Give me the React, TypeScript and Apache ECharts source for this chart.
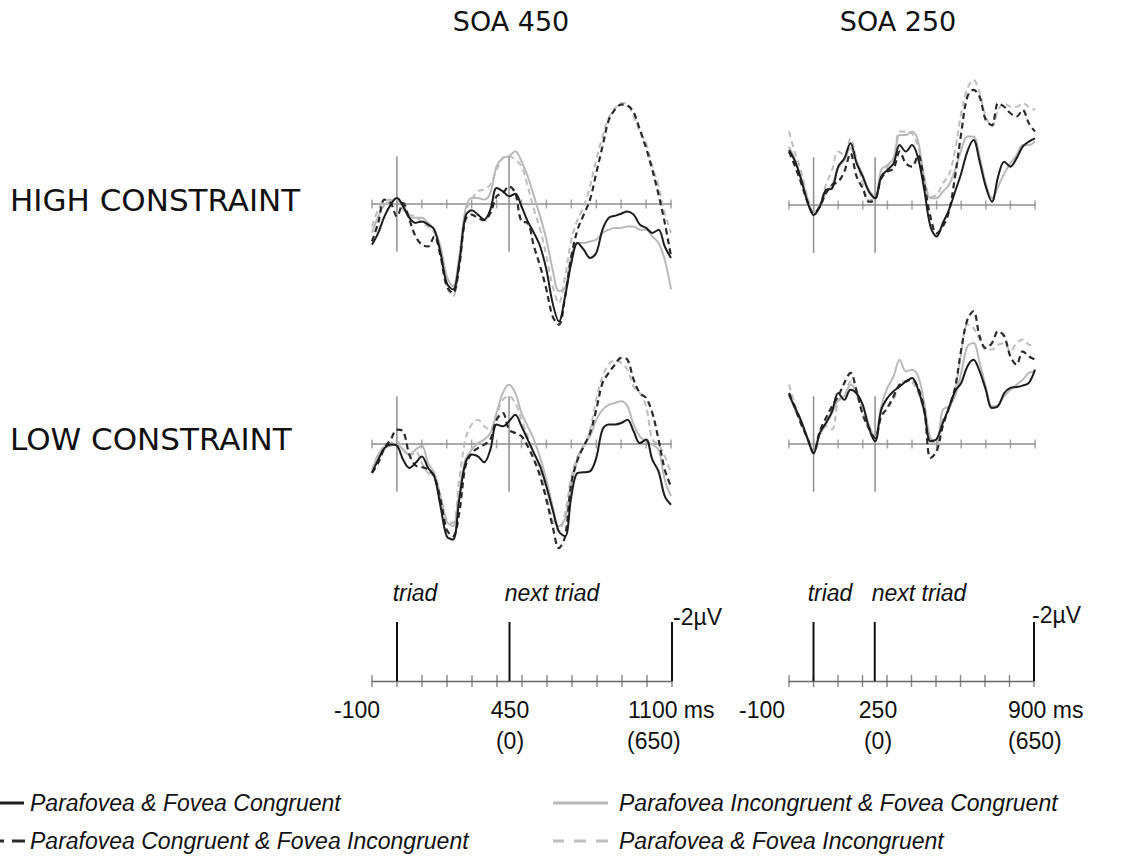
import React, { useEffect, useRef } from "react";
import * as echarts from "echarts";

// ---- time sampling (ms) ----
const T450 = [-100,-75,-50,-25,0,25,50,75,100,125,150,175,200,225,250,275,300,325,350,375,400,425,450,475,500,525,550,575,600,625,650,675,700,725,750,775,800,825,850,875,900,925,950,975,1000,1025,1050,1075,1100];
const T250 = [-100,-75,-50,-25,0,25,50,75,100,125,150,175,200,225,250,275,300,325,350,375,400,425,450,475,500,525,550,575,600,625,650,675,700,725,750,775,800,825,850,875,900];

// ---- HIGH CONSTRAINT, SOA 450 (µV, negative up) ----
const H450_PFC = [1.38,0.98,0.42,0.02,-0.20,0.08,0.47,0.64,0.59,0.70,0.87,1.66,2.68,2.90,2.00,0.42,0.21,0.36,0.53,0.19,-0.54,-0.43,-0.26,-0.35,0.08,0.59,0.98,1.44,2.23,3.36,3.98,3.13,2.00,1.32,1.55,1.83,1.66,0.87,0.47,0.40,0.33,0.25,0.36,0.70,0.81,0.98,0.87,1.44,1.83];
const H450_PFCFI = [1.27,0.64,-0.15,-0.03,0.42,-0.03,0.53,1.10,1.38,1.44,1.10,1.77,2.79,3.02,2.11,0.53,0.36,0.47,0.55,0.31,-0.26,-0.37,-0.60,-0.37,0.59,0.64,1.44,2.11,2.90,3.81,4.09,3.13,1.77,0.87,0.36,-0.15,-1.05,-1.95,-2.84,-3.20,-3.37,-3.34,-3.11,-2.52,-1.90,-1.16,-0.32,0.64,1.77];
const H450_PIFC = [0.98,0.42,0.02,-0.09,-0.20,0.02,0.42,0.47,0.47,0.64,0.87,1.44,2.45,2.79,1.77,0.19,-0.20,-0.20,-0.15,-0.37,-1.28,-1.56,-1.62,-1.79,-1.45,-0.94,-0.26,0.42,1.21,2.23,2.95,2.85,1.77,1.32,1.32,1.27,1.21,0.98,0.87,0.81,0.81,0.76,0.76,0.87,0.87,1.10,1.32,1.89,2.90];
const H450_PFI = [0.76,0.19,-0.09,-0.15,-0.15,0.19,0.36,0.42,0.64,0.76,0.98,1.66,2.79,3.13,2.00,0.31,-0.15,-0.43,-0.49,-0.66,-1.16,-1.56,-1.62,-1.50,-1.28,-0.60,0.19,0.87,1.77,2.79,3.36,2.45,1.21,0.53,0.08,-0.60,-1.50,-2.29,-2.92,-3.25,-3.42,-3.37,-2.97,-2.46,-2.07,-1.28,-0.60,0.31,0.98];

// ---- LOW CONSTRAINT, SOA 450 ----
const L450_PFC = [0.98,0.53,0.14,0.02,0.06,0.53,0.81,0.64,0.42,0.81,1.10,2.11,3.13,3.24,1.89,0.64,0.36,0.42,0.62,0.19,-0.66,-0.60,-0.77,-0.99,-0.60,-0.15,0.31,0.76,1.44,2.23,2.96,3.13,1.77,0.98,0.96,0.93,0.47,-0.49,-0.66,-0.66,-0.71,-0.82,-0.43,-0.03,-0.15,0.53,0.93,1.77,2.06];
const L450_PFCFI = [0.98,0.64,0.14,-0.15,-0.49,-0.43,0.36,0.73,0.78,0.87,1.10,1.89,2.90,3.13,2.34,0.76,0.31,0.14,0.02,-0.15,-0.82,-1.05,-0.49,-0.37,-0.26,0.08,0.53,1.10,1.89,2.79,3.53,3.13,1.32,0.53,0.08,-0.37,-1.16,-2.07,-2.41,-2.69,-2.92,-2.86,-2.18,-1.73,-1.56,-1.05,-0.15,0.87,1.44];
const L450_PIFC = [0.93,0.36,0.14,0.06,0.02,0.19,0.36,0.19,0.06,0.64,0.98,1.77,2.62,2.79,1.66,0.53,0.19,-0.03,-0.15,-0.37,-1.05,-1.73,-2.01,-1.73,-1.05,-0.60,-0.15,0.47,1.21,2.11,2.79,2.54,1.44,0.53,0.02,-0.26,-0.82,-1.16,-1.33,-1.39,-1.45,-1.28,-0.66,-0.26,-0.09,0.02,0.19,1.21,1.77];
const L450_PFI = [0.87,0.36,0.08,-0.03,-0.09,0.19,0.42,0.25,0.64,0.98,1.10,1.77,2.57,2.68,1.21,-0.15,-0.66,-0.82,-0.60,-0.49,-0.99,-1.50,-1.62,-1.39,-0.82,-0.26,0.31,0.87,1.77,2.57,2.96,2.34,1.10,0.42,0.08,-0.49,-1.50,-2.29,-2.69,-2.86,-2.75,-2.52,-1.95,-1.73,-1.28,-0.15,0.02,0.42,0.98];

// ---- HIGH CONSTRAINT, SOA 250 ----
const H250_PFC = [-1.86,-1.47,-0.85,-0.11,0.34,0.06,-0.51,-0.56,-1.30,-1.58,-2.09,-1.41,-0.96,-0.45,-0.23,-0.96,-1.19,-1.41,-2.03,-1.81,-2.03,-1.58,-0.51,0.73,1.07,0.62,0.17,-0.45,-1.07,-1.81,-2.20,-1.47,-0.62,-0.11,-0.96,-1.47,-1.30,-1.58,-1.98,-2.15,-2.26];
const H250_PFCFI = [-1.81,-1.30,-0.73,-0.11,0.28,0.06,-0.40,-0.68,-0.79,-1.13,-1.75,-0.96,-0.56,-0.11,-0.17,-0.90,-1.13,-1.24,-1.81,-1.41,-1.30,-1.69,-0.73,0.40,0.96,0.73,0.23,-0.96,-2.43,-3.67,-3.90,-3.67,-2.88,-2.71,-3.45,-3.33,-3.11,-3.00,-3.22,-2.77,-2.49];
const H250_PIFC = [-1.98,-1.53,-0.90,-0.23,0.28,0.06,-0.40,-0.68,-1.24,-1.53,-1.92,-1.47,-1.02,-0.51,-0.28,-1.19,-1.36,-1.58,-2.37,-2.37,-2.49,-2.15,-0.85,-0.23,-0.23,-0.45,-0.68,-1.19,-1.86,-2.32,-2.32,-1.64,-0.73,-0.23,-0.62,-1.07,-1.41,-1.69,-2.03,-2.03,-2.15];
const H250_PFI = [-2.49,-1.75,-1.13,-0.28,0.23,0.00,-0.68,-1.19,-1.81,-1.69,-2.26,-1.53,-0.73,-0.17,-0.23,-0.96,-1.30,-1.58,-2.49,-2.49,-2.43,-1.98,-0.96,-0.28,-0.34,-0.73,-1.02,-1.86,-3.11,-3.95,-4.24,-3.79,-2.99,-2.66,-3.22,-3.45,-3.33,-3.33,-3.45,-3.33,-3.22];

// ---- LOW CONSTRAINT, SOA 250 ----
const L250_PFC = [-1.67,-1.22,-0.77,-0.20,0.31,-0.37,-0.71,-1.11,-1.73,-1.50,-1.84,-1.71,-1.33,-0.54,-0.09,-1.16,-1.56,-1.79,-1.95,-2.12,-2.24,-1.84,-1.11,-0.09,-0.17,-0.71,-1.22,-1.79,-2.07,-2.63,-2.86,-2.46,-1.84,-1.22,-1.28,-1.73,-1.90,-1.93,-1.98,-2.07,-2.52];
const L250_PFCFI = [-1.73,-1.22,-0.66,-0.20,0.31,-0.43,-0.88,-1.28,-1.62,-2.07,-2.41,-1.79,-0.99,-0.54,-0.20,-0.94,-1.22,-1.62,-2.01,-2.12,-2.18,-1.90,-1.16,0.47,0.25,-0.60,-1.22,-1.90,-3.20,-4.21,-4.50,-3.65,-3.25,-3.42,-3.82,-3.65,-2.97,-2.69,-3.14,-2.97,-2.86];
const L250_PIFC = [-1.73,-1.16,-0.71,-0.15,0.25,-0.32,-0.66,-1.05,-1.50,-1.62,-2.01,-1.79,-1.28,-0.66,-0.20,-1.28,-1.90,-2.29,-2.86,-2.46,-2.52,-2.29,-1.39,-0.20,-0.12,-1.16,-1.28,-1.62,-2.41,-3.31,-3.42,-2.75,-1.95,-1.28,-1.33,-1.62,-1.84,-2.01,-2.18,-2.41,-2.46];
const L250_PFI = [-2.01,-1.33,-0.77,-0.20,0.14,-0.32,-0.60,-0.49,-1.45,-1.62,-2.12,-1.67,-1.11,-0.49,-0.26,-1.16,-1.28,-1.50,-2.07,-2.12,-2.09,-1.73,-1.05,-0.20,0.02,-0.82,-1.16,-1.79,-3.08,-4.05,-3.93,-3.54,-3.20,-3.20,-3.37,-3.42,-3.14,-3.42,-3.54,-3.37,-3.31];

// ---- axes / markers ----
const TICKS_450 = [-100,0,100,200,300,400,500,600,700,800,900,1000,1100];
const TICKS_250 = [-100,0,100,200,300,400,500,600,700,800,900];
const ONSETS_450 = [0, 450];
const ONSETS_250 = [0, 250];
const BARS_450 = [0, 450, 1100];
const BARS_250 = [0, 250, 900];
const SCALE_UV = -2;

// ---- texts ----
const TITLES = ["SOA 450", "SOA 250"];
const ROW_LABELS = ["HIGH CONSTRAINT", "LOW CONSTRAINT"];
const EVENT_LABELS = ["triad", "next triad"];
const SCALE_LABEL = "-2\u00b5V";
const TIME_LABELS_450 = ["-100", "450", "1100 ms"];
const TIME_LABELS_250 = ["-100", "250", "900 ms"];
const REL_LABELS = ["(0)", "(650)"];
const LEGEND_NAMES = [
  "Parafovea & Fovea Congruent",
  "Parafovea Congruent & Fovea Incongruent",
  "Parafovea Incongruent & Fovea Congruent",
  "Parafovea & Fovea Incongruent",
];

const BLACK = "#1c1c1c";
const BLACK_D = "#2a2a2a";
const GRAY = "#b9b9b9";
const GRAY_D = "#bdbdbd";
const AXIS_GRAY = "#8e8e8e";
const SCALE_GRAY = "#666666";
const DASH = [6, 4];
const PX_PER_UV = 29.5;
const MARK_HALF = 1.62;

const pair = (ts: number[], vs: number[]) => ts.map((t, i) => [t, vs[i]]);

export default function App() {
  const ref = useRef<HTMLDivElement>(null);

  useEffect(() => {
    if (!ref.current) return;
    const chart = echarts.init(ref.current, null, { renderer: "svg" });

    const panels = [
      { left: 372, base: 204, width: 299, max: 1100, t: T450, d: [H450_PFI, H450_PIFC, H450_PFCFI, H450_PFC], ticks: TICKS_450, onsets: ONSETS_450 },
      { left: 789, base: 205, width: 246, max: 900, t: T250, d: [H250_PFI, H250_PIFC, H250_PFCFI, H250_PFC], ticks: TICKS_250, onsets: ONSETS_250 },
      { left: 372, base: 444, width: 299, max: 1100, t: T450, d: [L450_PFI, L450_PIFC, L450_PFCFI, L450_PFC], ticks: TICKS_450, onsets: ONSETS_450 },
      { left: 789, base: 444, width: 246, max: 900, t: T250, d: [L250_PFI, L250_PIFC, L250_PFCFI, L250_PFC], ticks: TICKS_250, onsets: ONSETS_250 },
    ];
    const scales = [
      { left: 372, width: 300, max: 1100, ticks: TICKS_450, bars: BARS_450 },
      { left: 789, width: 245, max: 900, ticks: TICKS_250, bars: BARS_250 },
    ];
    const SCALE_BASE = 681;

    const grids: any[] = [];
    const xAxes: any[] = [];
    const yAxes: any[] = [];
    const series: any[] = [];

    const styles = [
      { color: GRAY_D, width: 2, type: DASH, z: 2 },
      { color: GRAY, width: 2, type: "solid", z: 3 },
      { color: BLACK_D, width: 2.2, type: DASH, z: 4 },
      { color: BLACK, width: 2, type: "solid", z: 5 },
    ];

    panels.forEach((p, g) => {
      grids.push({ left: p.left, top: p.base - 5 * PX_PER_UV, width: p.width, height: 10 * PX_PER_UV });
      xAxes.push({
        type: "value", gridIndex: g, min: -100, max: p.max,
        axisLine: { show: true, onZero: true, lineStyle: { color: AXIS_GRAY, width: 1.5 } },
        axisTick: { show: false }, axisLabel: { show: false }, splitLine: { show: false },
      });
      yAxes.push({
        type: "value", gridIndex: g, min: -5, max: 5, inverse: true,
        axisLine: { show: false }, axisTick: { show: false }, axisLabel: { show: false }, splitLine: { show: false },
      });
      p.onsets.forEach((m) => {
        series.push({
          type: "line", xAxisIndex: g, yAxisIndex: g, silent: true, showSymbol: false, z: 1,
          data: [[m, -MARK_HALF], [m, MARK_HALF]],
          lineStyle: { color: AXIS_GRAY, width: 1.5 },
        });
      });
      series.push({
        type: "scatter", xAxisIndex: g, yAxisIndex: g, silent: true, z: 1,
        data: p.ticks.map((t) => [t, 0]), symbol: "rect", symbolSize: [1.5, 9],
        itemStyle: { color: AXIS_GRAY },
      });
      p.d.forEach((vals, k) => {
        const s = styles[k];
        series.push({
          type: "line", xAxisIndex: g, yAxisIndex: g, silent: true, showSymbol: false,
          smooth: 0.35, z: s.z, data: pair(p.t, vals),
          lineStyle: { color: s.color, width: s.width, type: s.type },
        });
      });
    });

    scales.forEach((s, i) => {
      const g = panels.length + i;
      grids.push({ left: s.left, top: SCALE_BASE - 2.5 * PX_PER_UV, width: s.width, height: 3 * PX_PER_UV });
      xAxes.push({
        type: "value", gridIndex: g, min: -100, max: s.max,
        axisLine: { show: true, onZero: true, lineStyle: { color: SCALE_GRAY, width: 1.3 } },
        axisTick: { show: false }, axisLabel: { show: false }, splitLine: { show: false },
      });
      yAxes.push({
        type: "value", gridIndex: g, min: -2.5, max: 0.5, inverse: true,
        axisLine: { show: false }, axisTick: { show: false }, axisLabel: { show: false }, splitLine: { show: false },
      });
      series.push({
        type: "scatter", xAxisIndex: g, yAxisIndex: g, silent: true,
        data: s.ticks.map((t) => [t, 0]), symbol: "rect", symbolSize: [1.4, 12],
        itemStyle: { color: SCALE_GRAY },
      });
      s.bars.forEach((b) => {
        series.push({
          type: "line", xAxisIndex: g, yAxisIndex: g, silent: true, showSymbol: false,
          data: [[b, 0], [b, SCALE_UV]], lineStyle: { color: "#111", width: 2 },
        });
      });
    });

    const txt = (text: string, x: number, y: number, font: string, align = "center") => ({
      type: "text", x, y, silent: true,
      style: { text, font, fill: "#111", textAlign: align, textVerticalAlign: "middle", align, verticalAlign: "middle" },
    });
    const sans = '23px "Liberation Sans", Arial, sans-serif';
    const ital = 'italic 23px "Liberation Sans", Arial, sans-serif';
    const head = '27px "DejaVu Sans", Verdana, sans-serif';
    const row = '31px "DejaVu Sans", Verdana, sans-serif';

    const graphic: any[] = [
      txt(TITLES[0], 511, 21, head),
      txt(TITLES[1], 898, 21, head),
      txt(ROW_LABELS[0], 10, 200, row, "left"),
      txt(ROW_LABELS[1], 10, 439, row, "left"),
      // SOA 450 scale
      txt(EVENT_LABELS[0], 415, 593, ital),
      txt(EVENT_LABELS[1], 552, 593, ital),
      txt(SCALE_LABEL, 673, 617, sans, "left"),
      txt(TIME_LABELS_450[0], 357, 710, sans),
      txt(TIME_LABELS_450[1], 510, 710, sans),
      txt(REL_LABELS[0], 510, 741, sans),
      txt(TIME_LABELS_450[2], 628, 710, sans, "left"),
      txt(REL_LABELS[1], 627, 741, sans, "left"),
      // SOA 250 scale
      txt(EVENT_LABELS[0], 830, 593, ital),
      txt(EVENT_LABELS[1], 919, 593, ital),
      txt(SCALE_LABEL, 1032, 615, sans, "left"),
      txt(TIME_LABELS_250[0], 762, 710, sans),
      txt(TIME_LABELS_250[1], 878, 710, sans),
      txt(REL_LABELS[0], 878, 741, sans),
      txt(TIME_LABELS_250[2], 1008, 710, sans, "left"),
      txt(REL_LABELS[1], 1008, 741, sans, "left"),
      // legend
      { type: "line", silent: true, shape: { x1: 0, y1: 803, x2: 24, y2: 803 }, style: { stroke: BLACK, lineWidth: 3 } },
      { type: "line", silent: true, shape: { x1: 0, y1: 841, x2: 4, y2: 841 }, style: { stroke: BLACK_D, lineWidth: 3 } },
      { type: "line", silent: true, shape: { x1: 12, y1: 841, x2: 25, y2: 841 }, style: { stroke: BLACK_D, lineWidth: 3 } },
      { type: "line", silent: true, shape: { x1: 553, y1: 803, x2: 608, y2: 803 }, style: { stroke: GRAY, lineWidth: 3 } },
      { type: "line", silent: true, shape: { x1: 553, y1: 841, x2: 564, y2: 841 }, style: { stroke: GRAY_D, lineWidth: 3 } },
      { type: "line", silent: true, shape: { x1: 574, y1: 841, x2: 586, y2: 841 }, style: { stroke: GRAY_D, lineWidth: 3 } },
      { type: "line", silent: true, shape: { x1: 596, y1: 841, x2: 608, y2: 841 }, style: { stroke: GRAY_D, lineWidth: 3 } },
      txt(LEGEND_NAMES[0], 30, 803, ital, "left"),
      txt(LEGEND_NAMES[1], 30, 841, ital, "left"),
      txt(LEGEND_NAMES[2], 619, 803, ital, "left"),
      txt(LEGEND_NAMES[3], 619, 841, ital, "left"),
    ];

    chart.setOption({
      animation: false,
      backgroundColor: "#ffffff",
      grid: grids,
      xAxis: xAxes,
      yAxis: yAxes,
      series,
      graphic,
    });

    return () => chart.dispose();
  }, []);

  return (
    <div
      ref={ref}
      style={{ position: "fixed", left: 0, top: 0, width: 1126, height: 863, background: "#fff" }}
    />
  );
}
